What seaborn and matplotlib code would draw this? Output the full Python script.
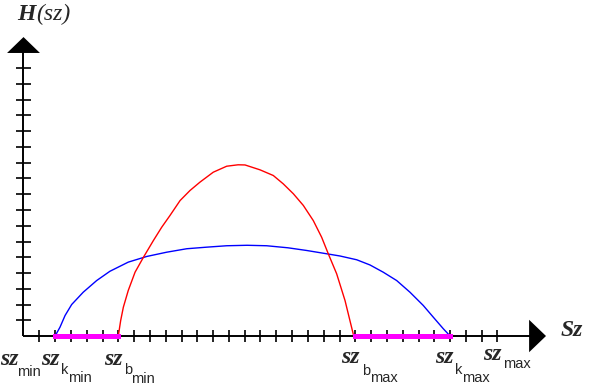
import matplotlib
matplotlib.use("Agg")
import matplotlib.pyplot as plt
from matplotlib.transforms import IdentityTransform
import seaborn as sns
import pandas as pd

# curve points (x in tick units, y in tick units)
blue_x = [2.0, 2.31, 2.63, 3.05, 3.78, 4.63, 5.47, 6.63, 7.80, 9.06, 10.33, 11.59, 12.86, 14.15,
          15.39, 16.74, 17.92, 19.19, 20.03, 21.09, 21.93, 22.77, 23.62, 24.46, 25.30, 25.94, 26.57, 27.0]
blue_y = [0.0, 0.56, 1.30, 2.00, 2.78, 3.52, 4.11, 4.69, 5.05, 5.32, 5.54, 5.64, 5.73, 5.76,
          5.73, 5.60, 5.43, 5.22, 5.08, 4.84, 4.51, 4.05, 3.52, 2.78, 1.94, 1.19, 0.46, 0.0]
red_x = [6.0, 6.15, 6.32, 6.63, 7.06, 7.58, 8.22, 8.75, 9.27, 9.91, 10.54, 11.17, 12.01, 12.86,
         13.58, 14.02, 14.97, 15.81, 16.44, 17.08, 17.71, 18.34, 18.87, 19.29, 19.82, 20.35, 20.66, 20.9]
red_y = [0.0, 0.98, 1.83, 2.89, 4.05, 4.98, 6.06, 6.91, 7.65, 8.60, 9.24, 9.77, 10.40, 10.78,
         10.87, 10.86, 10.55, 10.19, 9.66, 9.03, 8.29, 7.33, 6.27, 5.22, 3.95, 2.25, 0.98, 0.0]

# highlighted intervals on the sz axis
intervals = [(2, 6), (21, 27)]
x_ticks = list(range(1, 31))
y_ticks = list(range(1, 18))

W, H = 600, 391
sns.set_style("white")
fig = plt.figure(figsize=(W / 100, H / 100), dpi=100)
ax = fig.add_axes([0, 0, 1, 1])
ax.set_xlim(-23.5 / 15.8, (W - 23.5) / 15.8)
ax.set_ylim((336 - H) / 15.75, 336 / 15.75)
ax.axis("off")

# axes with arrows
ax.plot([0, 32.05], [0, 0], color="black", lw=1.4, solid_capstyle="butt")
ax.plot([0, 0], [0, 18], color="black", lw=1.4, solid_capstyle="butt")
ax.fill([32.0, 33.07, 32.0], [1.03, 0, -1.03], color="black", lw=0)
ax.fill([-1.04, 0, 1.04], [17.97, 18.98, 17.97], color="black", lw=0)
ax.vlines(x_ticks, -0.38, 0.38, color="black", lw=1.2)
ax.hlines(y_ticks, -0.47, 0.47, color="black", lw=1.2)

# curves
blue = pd.DataFrame({"x": blue_x, "y": blue_y})
red = pd.DataFrame({"x": red_x, "y": red_y})
sns.lineplot(data=blue, x="x", y="y", sort=False, estimator=None, color="#0000ff", lw=1.0, ax=ax)
sns.lineplot(data=red, x="x", y="y", sort=False, estimator=None, color="#ff0000", lw=1.0, ax=ax)

for a, b in intervals:
    ax.plot([a, b], [-0.03, -0.03], color="#ff00ff", lw=3.6, solid_capstyle="projecting")

serif = dict(family="Liberation Serif", weight="bold", style="italic")
sans = dict(family="Liberation Sans")
tr = IdentityTransform()


def put(x, y, s, size, font):
    # x, y in image pixels measured from the top-left corner
    fig.text(x, H - y, s, transform=tr, fontsize=size, va="baseline", ha="left", **font)


def label(x, base, parts):
    put(x, base, "sz", 17, serif)
    for dx, dy, s in parts:
        put(x + dx, base + dy, s, 10.5, sans)


label(0, 365, [(17, 11, "min")])
label(41, 365, [(20, 9, "k"), (27, 17, "min")])
label(104, 365, [(20, 9, "b"), (27, 18, "min")])
label(341, 363, [(21, 12, "b"), (29, 19, "max")])
label(435, 363, [(20, 11, "k"), (27, 19, "max")])
label(483, 360, [(20, 8, "max")])

put(561, 336, "Sz", 17, serif)
put(17, 20, "H", 17, serif)
put(36, 20, "(sz)", 17, dict(family="Liberation Serif", style="italic"))

fig.savefig("out.png", dpi=100)
